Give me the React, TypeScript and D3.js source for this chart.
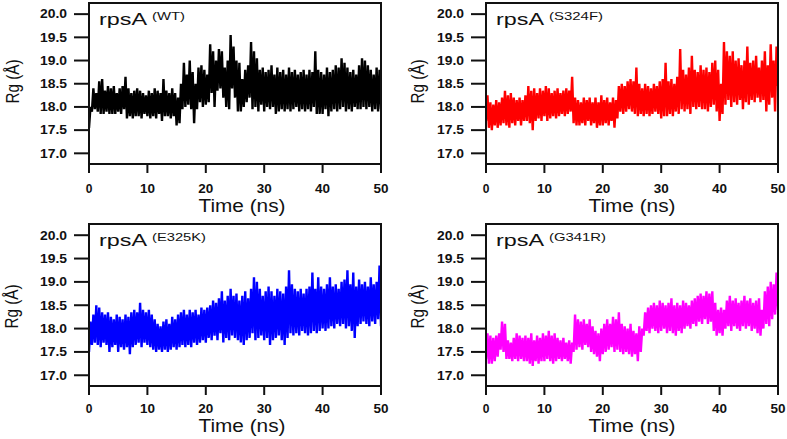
import React from "react";
import * as d3 from "d3";

// ---- Data (Rg in Å, sampled every 0.5 ns from 0 to 50 ns: upper / lower excursions) ----
const xTicks = [0, 10, 20, 30, 40, 50];
const yTicks = [17.0, 17.5, 18.0, 18.5, 19.0, 19.5, 20.0];

const wtUpper = [18.0,18.4,18.3,18.55,18.6,18.35,18.45,18.4,18.45,18.3,18.4,18.45,18.65,18.4,18.3,18.35,18.4,18.35,18.3,18.25,18.35,18.3,18.4,18.35,18.3,18.6,18.35,18.3,18.4,18.3,18.2,18.5,18.95,18.7,19.0,18.75,18.5,18.85,18.9,18.8,18.7,19.35,19.2,19.0,19.25,19.2,18.85,19.0,19.55,19.3,19.0,18.95,18.6,18.8,18.9,19.4,19.2,19.05,18.8,18.85,18.75,18.8,18.9,18.7,18.85,18.75,18.8,18.7,18.85,18.75,18.8,18.7,18.75,18.8,18.7,18.8,18.75,19.2,18.8,18.75,18.7,18.85,18.75,18.8,18.9,18.85,19.05,18.95,18.85,18.75,18.8,18.7,18.9,19.05,19.0,18.9,18.8,18.7,18.85,18.8,18.8];
const wtLower = [17.55,17.9,17.95,17.9,17.85,17.85,17.9,17.85,17.85,17.85,17.9,17.85,17.95,17.75,17.8,17.75,17.8,17.8,17.75,17.85,17.8,17.75,17.8,17.75,17.85,17.7,17.8,17.8,17.75,17.8,17.6,17.65,17.95,18.0,18.05,17.95,17.65,17.95,18.1,18.0,18.05,18.1,18.3,18.0,18.35,18.4,18.2,18.0,17.95,18.4,18.2,17.9,17.9,18.0,18.1,18.2,17.95,18.0,17.9,18.05,17.9,18.0,17.95,18.0,17.85,17.9,17.95,17.9,17.95,17.9,17.95,18.0,17.9,17.95,17.9,17.95,17.9,18.0,17.85,17.85,17.85,17.95,17.8,17.9,17.95,17.9,17.95,18.0,17.9,17.95,17.9,18.0,17.95,17.95,18.0,17.95,18.0,17.9,17.95,17.9,17.95];

const s324fUpper = [18.25,18.1,18.05,18.15,18.1,18.2,18.35,18.25,18.3,18.2,18.15,18.2,18.15,18.25,18.45,18.35,18.4,18.3,18.4,18.35,18.45,18.4,18.3,18.35,18.4,18.3,18.35,18.4,18.35,18.65,18.2,18.15,18.1,18.2,18.15,18.2,18.1,18.2,18.1,18.25,18.15,18.2,18.1,18.2,18.15,18.45,18.5,18.45,18.55,18.6,18.55,18.85,18.5,18.4,18.5,18.45,18.4,18.5,18.45,18.55,18.6,18.95,18.55,18.6,18.5,18.65,19.25,18.8,18.7,18.85,19.1,18.8,18.75,18.9,18.8,18.85,18.75,18.95,19.0,18.8,18.5,19.4,19.2,19.1,19.2,19.0,19.05,18.9,19.0,19.3,18.95,19.0,19.1,18.85,19.0,19.2,18.9,19.35,19.0,19.3,18.9];
const s324fLower = [17.7,17.55,17.5,17.6,17.55,17.6,17.65,17.6,17.55,17.65,17.6,17.7,17.6,17.7,17.7,17.65,17.5,17.7,17.75,17.7,17.8,17.7,17.75,17.8,17.75,17.8,17.85,17.8,17.85,17.9,17.65,17.6,17.6,17.65,17.6,17.7,17.6,17.65,17.55,17.6,17.6,17.65,17.6,17.7,17.55,17.75,17.9,17.85,17.9,17.95,17.9,17.85,17.8,17.85,17.8,17.85,17.8,17.85,17.9,17.85,17.75,17.8,17.8,17.85,17.8,17.9,17.85,17.95,17.9,17.95,17.85,18.0,17.95,18.0,17.95,17.95,17.9,18.0,18.05,17.9,17.7,17.85,18.05,18.15,18.0,18.1,18.05,18.15,17.95,18.1,18.05,18.15,18.1,18.2,18.1,18.15,17.9,18.05,18.2,17.9,18.45];

const e325kUpper = [18.15,18.3,18.5,18.45,18.35,18.3,18.35,18.25,18.2,18.3,18.25,18.2,18.3,18.25,18.35,18.4,18.35,18.55,18.4,18.35,18.4,18.3,18.2,18.1,18.05,18.15,18.2,18.1,18.25,18.2,18.3,18.35,18.4,18.3,18.4,18.35,18.4,18.3,18.45,18.4,18.45,18.5,18.6,18.55,18.65,18.8,18.6,18.7,18.85,18.7,18.75,18.6,18.7,18.8,18.65,18.85,19.1,19.0,18.85,18.7,18.8,18.9,18.8,18.7,18.85,18.8,18.75,18.9,19.25,18.95,18.85,18.8,18.85,18.75,18.85,18.9,19.2,18.85,19.1,18.9,18.85,18.95,19.1,18.9,18.95,18.85,19.0,19.05,19.25,18.95,19.2,18.9,19.05,18.95,19.0,18.9,19.1,18.95,19.0,19.35,19.05];
const e325kLower = [17.5,17.65,17.7,17.65,17.6,17.7,17.65,17.5,17.6,17.65,17.5,17.6,17.55,17.6,17.45,17.6,17.65,17.7,17.6,17.7,17.65,17.6,17.55,17.5,17.55,17.5,17.55,17.5,17.55,17.6,17.55,17.6,17.65,17.6,17.65,17.6,17.7,17.65,17.7,17.75,17.7,17.8,17.75,17.85,17.75,17.9,17.7,17.8,17.75,17.85,17.8,17.75,17.7,17.65,17.75,17.8,17.9,17.75,17.8,17.85,17.75,17.8,17.65,17.75,17.8,17.85,17.75,17.65,17.8,17.9,17.85,17.9,17.85,17.95,17.9,17.85,17.9,17.95,17.9,17.95,18.0,17.95,18.0,18.05,18.0,18.1,18.05,18.1,18.0,18.05,17.95,17.8,18.05,18.1,18.15,18.1,18.05,18.15,18.1,18.2,18.05];

const g341rUpper = [17.9,17.85,17.8,17.85,17.9,18.15,18.1,17.75,17.7,17.8,17.9,17.85,17.8,17.85,17.8,17.9,17.75,17.85,17.8,17.9,17.85,17.95,17.85,17.9,17.8,17.75,17.8,17.7,17.75,17.7,18.3,18.2,18.15,18.2,18.1,18.2,18.05,17.95,17.9,18.0,18.1,18.2,18.1,18.25,18.2,18.35,18.1,18.05,18.0,18.1,17.95,17.9,18.05,18.0,18.35,18.45,18.5,18.55,18.5,18.6,18.55,18.5,18.55,18.65,18.5,18.55,18.5,18.6,18.55,18.5,18.6,18.65,18.7,18.75,18.7,18.8,18.75,18.8,18.55,18.4,18.45,18.4,18.6,18.7,18.6,18.65,18.55,18.6,18.7,18.6,18.65,18.55,18.6,18.65,18.4,18.8,18.9,19.0,18.95,19.2,19.1];
const g341rLower = [17.35,17.25,17.25,17.3,17.4,17.55,17.5,17.35,17.35,17.3,17.35,17.3,17.35,17.3,17.3,17.25,17.2,17.3,17.25,17.3,17.3,17.35,17.3,17.25,17.3,17.35,17.3,17.35,17.3,17.25,17.5,17.55,17.6,17.55,17.65,17.6,17.5,17.45,17.4,17.3,17.45,17.5,17.55,17.6,17.5,17.55,17.5,17.45,17.5,17.45,17.4,17.45,17.3,17.5,17.85,17.95,17.9,18.0,17.95,17.9,17.95,18.0,17.9,17.95,17.9,17.85,17.95,17.9,18.0,18.05,18.0,18.1,18.05,18.15,18.1,18.2,18.1,18.15,17.95,17.85,17.9,17.85,18.0,18.05,17.95,18.05,18.0,17.95,18.05,18.0,18.05,17.95,18.0,17.9,17.85,18.0,18.1,18.05,18.2,18.3,18.4];

const titles = ["(WT)", "(S324F)", "(E325K)", "(G341R)"];
const colors = ["#000000", "#ff0000", "#0000ff", "#ff00ff"];
const uppers = [wtUpper, s324fUpper, e325kUpper, g341rUpper];
const lowers = [wtLower, s324fLower, e325kLower, g341rLower];

// ---- Layout ----
const W = 787, H = 439;
const panels = [
  { left: 89, top: 3, bottom: 164, tickBase: 29, xlabCx: 242, xlabBase: 211.5, rgBase: 19, rgCy: 81.5, supLen: 33 },
  { left: 486, top: 3, bottom: 164, tickBase: 29, xlabCx: 632, xlabBase: 211.5, rgBase: 423.5, rgCy: 81.5, supLen: 54 },
  { left: 89, top: 224, bottom: 386, tickBase: 27, xlabCx: 242, xlabBase: 432, rgBase: 17.5, rgCy: 306.5, supLen: 54 },
  { left: 486, top: 224, bottom: 386, tickBase: 27, xlabCx: 632, xlabBase: 432, rgBase: 423.5, rgCy: 306.5, supLen: 57 },
];
const PW = 292;
const FONT = "'Liberation Sans', Arial, Helvetica, sans-serif";

function buildPoints(upper: number[], lower: number[]): [number, number][] {
  const n = upper.length;
  const step = 50 / (n - 1);
  const pts: [number, number][] = [];
  for (let i = 0; i < n; i++) {
    const t = i * step;
    pts.push([t, lower[i]]);
    pts.push([Math.min(50, t + step / 2), upper[i]]);
  }
  return pts;
}

function Panel({ idx }: { idx: number }) {
  const p = panels[idx];
  const x = d3.scaleLinear().domain([0, 50]).range([p.left, p.left + PW]);
  const y = d3.scaleLinear().domain([16.77, 20.24]).range([p.bottom, p.top]);
  const line = d3.line<[number, number]>().x((d) => x(d[0])).y((d) => y(d[1]));
  const pts = buildPoints(uppers[idx], lowers[idx]);
  const clipId = `clip${idx}`;
  return (
    <g>
      <defs>
        <clipPath id={clipId}>
          <rect x={p.left} y={p.top} width={PW} height={p.bottom - p.top} />
        </clipPath>
      </defs>
      <path d={line(pts) || ""} fill="none" stroke={colors[idx]} strokeWidth={2.4}
        strokeLinejoin="miter" strokeMiterlimit={2} clipPath={`url(#${clipId})`} />
      <rect x={p.left} y={p.top} width={PW} height={p.bottom - p.top} fill="none" stroke="#111" strokeWidth={2} />
      {yTicks.map((v) => (
        <g key={v}>
          <line x1={p.left - 15} x2={p.left} y1={y(v)} y2={y(v)} stroke="#111" strokeWidth={2} />
          <text x={p.left - 22} y={y(v)} dy="0.36em" textAnchor="end" fontFamily={FONT}
            fontWeight="bold" fontSize={12} fill="#111" textLength={27} lengthAdjust="spacingAndGlyphs">
            {v.toFixed(1)}
          </text>
        </g>
      ))}
      {xTicks.map((v) => (
        <g key={v}>
          <line x1={x(v)} x2={x(v)} y1={p.bottom} y2={p.bottom + 9} stroke="#111" strokeWidth={2} />
          <text x={x(v)} y={p.bottom + p.tickBase} textAnchor="middle" fontFamily={FONT}
            fontWeight="bold" fontSize={12} fill="#111"
            {...(String(v).length > 1 ? { textLength: 15, lengthAdjust: "spacingAndGlyphs" } : {})}>
            {v}
          </text>
        </g>
      ))}
      <text x={p.left + 10} y={p.top + 21.5} fontFamily={FONT} fontSize={17} fill="#111"
        textLength={48} lengthAdjust="spacingAndGlyphs">rpsA</text>
      <text x={p.left + 63} y={p.top + 16.5} fontFamily={FONT} fontSize={10.5} fill="#111"
        textLength={p.supLen} lengthAdjust="spacingAndGlyphs">{titles[idx]}</text>
      <text x={p.xlabCx} y={p.xlabBase} textAnchor="middle" fontFamily={FONT} fontSize={17.5} fill="#111"
        textLength={87} lengthAdjust="spacingAndGlyphs">Time (ns)</text>
      <text transform={`translate(${p.rgBase},${p.rgCy}) rotate(-90)`} textAnchor="middle"
        fontFamily={FONT} fontSize={17.5} fill="#111" textLength={44} lengthAdjust="spacingAndGlyphs">
        Rg (Å)
      </text>
    </g>
  );
}

export default function App() {
  return (
    <svg width={W} height={H} viewBox={`0 0 ${W} ${H}`}
      style={{ position: "absolute", left: 0, top: 0, background: "#fff" }}>
      <rect width={W} height={H} fill="#fff" />
      {panels.map((_, i) => (
        <Panel key={i} idx={i} />
      ))}
    </svg>
  );
}
